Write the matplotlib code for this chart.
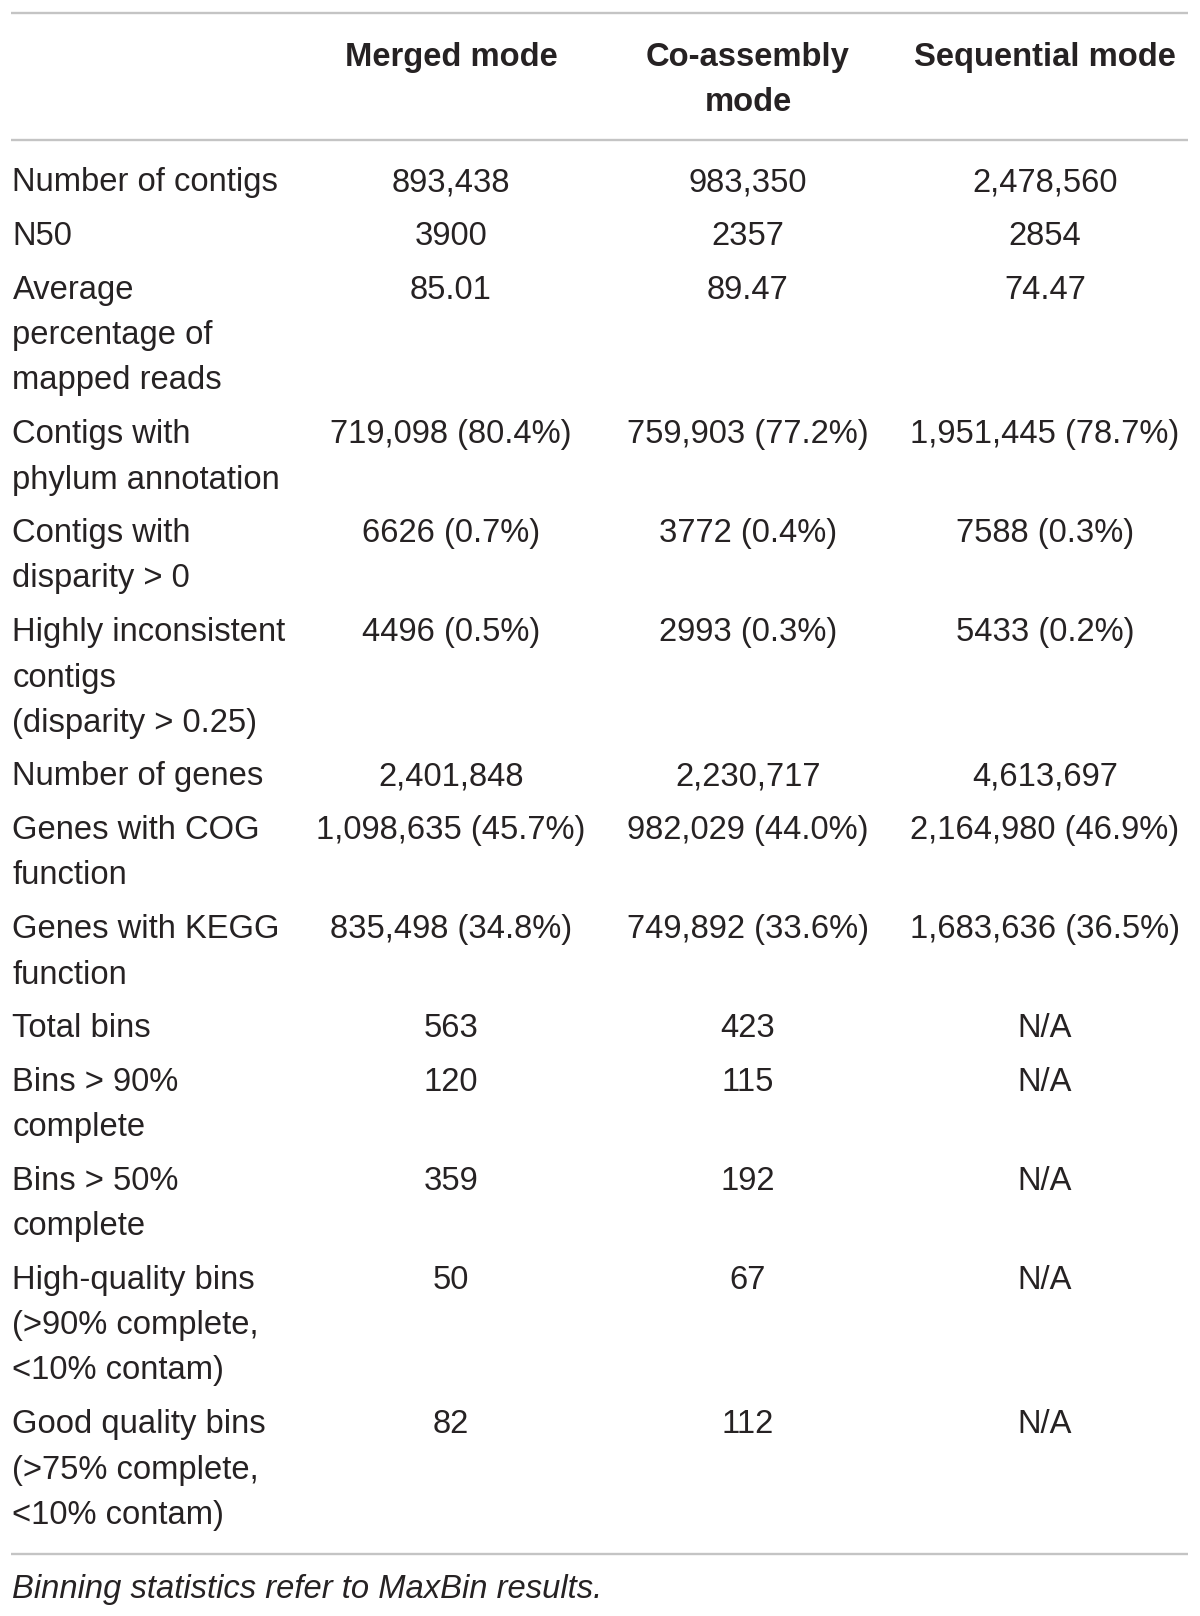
import matplotlib
matplotlib.use("Agg")
import matplotlib.pyplot as plt

# ---- data ----
columns = ["Merged mode", "Co-assembly\nmode", "Sequential mode"]
row_labels = [
    "Number of contigs",
    "N50",
    "Average\npercentage of\nmapped reads",
    "Contigs with\nphylum annotation",
    "Contigs with\ndisparity > 0",
    "Highly inconsistent\ncontigs\n(disparity > 0.25)",
    "Number of genes",
    "Genes with COG\nfunction",
    "Genes with KEGG\nfunction",
    "Total bins",
    "Bins > 90%\ncomplete",
    "Bins > 50%\ncomplete",
    "High-quality bins\n(>90% complete,\n<10% contam)",
    "Good quality bins\n(>75% complete,\n<10% contam)",
]
merged = ["893,438", "3900", "85.01", "719,098 (80.4%)", "6626 (0.7%)", "4496 (0.5%)",
          "2,401,848", "1,098,635 (45.7%)", "835,498 (34.8%)", "563", "120", "359", "50", "82"]
coassembly = ["983,350", "2357", "89.47", "759,903 (77.2%)", "3772 (0.4%)", "2993 (0.3%)",
              "2,230,717", "982,029 (44.0%)", "749,892 (33.6%)", "423", "115", "192", "67", "112"]
sequential = ["2,478,560", "2854", "74.47", "1,951,445 (78.7%)", "7588 (0.3%)", "5433 (0.2%)",
              "4,613,697", "2,164,980 (46.9%)", "1,683,636 (36.5%)", "N/A", "N/A", "N/A", "N/A", "N/A"]
footnote = "Binning statistics refer to MaxBin results."

# ---- layout ----
W, H = 1200, 1616
fig = plt.figure(figsize=(W / 100, H / 100), dpi=100)
ax = fig.add_axes([0, 0, 1, 1])
ax.set_xlim(0, W)
ax.set_ylim(H, 0)
ax.axis("off")

FONT = "Liberation Sans"
FS = 23.6
TXT = "#262223"
RULE = "#c4c4c4"
left_x = 12.5
col_x = [451, 748, 1045]
line_h = 45.4
row_gap = 53.6
cap_off = 12

rule_x0, rule_x1 = 10.5, 1188
for yy in (12.5, 139.5, 1554):
    ax.plot([rule_x0, rule_x1], [yy, yy], color=RULE, lw=1.7, solid_capstyle="butt")

# header
hdr_y = 54
for cx, name in zip(col_x, columns):
    for k, part in enumerate(name.split("\n")):
        ax.text(cx, hdr_y + k * line_h + cap_off, part, ha="center", va="baseline",
                fontsize=FS, fontweight="bold", family=FONT, color=TXT)

# body
y = 179.5
cols = [merged, coassembly, sequential]
for i, lab in enumerate(row_labels):
    parts = lab.split("\n")
    for k, part in enumerate(parts):
        ax.text(left_x, y + k * line_h + cap_off, part, ha="left", va="baseline",
                fontsize=FS, family=FONT, color=TXT)
    for cx, col in zip(col_x, cols):
        ax.text(cx, y + cap_off, col[i], ha="center", va="baseline",
                fontsize=FS, family=FONT, color=TXT)
    y += (len(parts) - 1) * line_h + row_gap

ax.text(left_x, 1586 + cap_off, footnote, ha="left", va="baseline",
        fontsize=FS, family=FONT, style="italic", color=TXT)

fig.savefig("out.png", dpi=100)
